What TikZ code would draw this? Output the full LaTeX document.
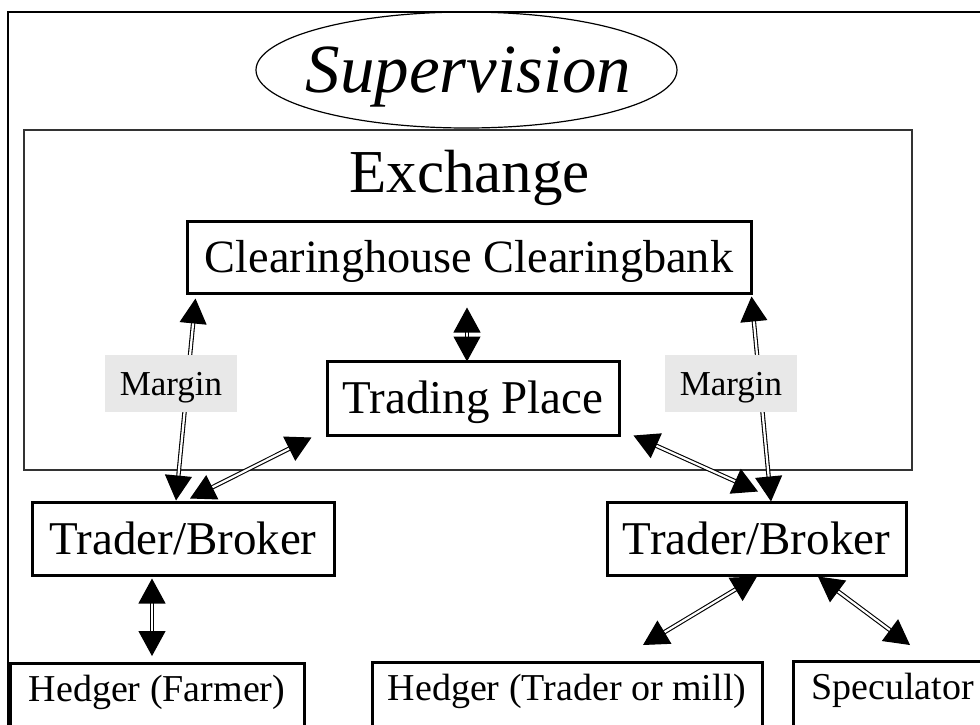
\documentclass[tikz,border=0pt]{standalone}
\usepackage{fontspec}
\setmainfont{Liberation Serif}
\usetikzlibrary{shapes.geometric,arrows.meta,calc}
\tikzset{
  mainbox/.style={draw, line width=3pt, inner sep=0pt, font=\fontsize{47}{47}\selectfont, text height=31pt, text depth=0pt},
  lowbox/.style={draw, line width=3pt, inner sep=0pt, anchor=north, font=\fontsize{38}{38}\selectfont, text height=38pt, text depth=62pt},
  marginlbl/.style={fill=black!9, inner sep=0pt, minimum width=132pt, minimum height=57pt, font=\fontsize{35}{35}\selectfont, text height=23pt, text depth=0pt},
  dbl/.style={double, line width=1.1pt, double distance=2.2pt, {Triangle[length=25pt,width=27pt]}-{Triangle[length=25pt,width=27pt]}},
}
\begin{document}
\begin{tikzpicture}[x=1pt,y=-1pt]
\useasboundingbox (0,0) rectangle (980,724);
\clip (0,0) rectangle (980,724);
\fill[white] (0,0) rectangle (980,724);
% outer frame
\draw[line width=2pt] (8,1000) -- (8,12) -- (1000,12);
% supervision
\node[ellipse, draw, line width=1.2pt, minimum width=421pt, minimum height=116pt, inner sep=0pt,
      font=\fontsize{69}{69}\selectfont\itshape, text height=0pt, text depth=0pt] (sup) at (466.5,70)
      {\raisebox{-22pt}[0pt][0pt]{\makebox[0pt]{\hspace*{4pt}Supervision}}};
% exchange frame
\node[draw=black!80, line width=1.3pt, minimum width=888pt, minimum height=340pt, inner sep=0pt] (ex) at (468,300) {};
\node[inner sep=0pt, font=\fontsize{61}{61}\selectfont, text height=41pt, text depth=0pt] (exl) at (469.5,171.5) {Exchange};
% main boxes
\node[mainbox, minimum width=564pt, minimum height=72pt, font=\fontsize{46.3}{46.3}\selectfont] (ch) at (469,257) {Clearinghouse Clearingbank};
\node[mainbox, minimum width=292pt, minimum height=74pt] (tp) at (473,398) {Trading Place};
\node[mainbox, minimum width=302pt, minimum height=73pt] (tbl) at (183,538.5) {Trader/Broker};
\node[mainbox, minimum width=299pt, minimum height=73pt] (tbr) at (756.5,538.5) {Trader/Broker};
% lower boxes
\node[lowbox, minimum width=294pt] (hf) at (157,662) {Hedger (Farmer)};
\node[lowbox, minimum width=390pt] (ht) at (567,661) {Hedger (Trader or mill)};
\node[lowbox, minimum width=199pt] (spec) at (892.5,660) {Speculator};
% connectors
\draw[dbl] ($(ch.south west)+(10,4)$) -- ($(tbl.north)+(-7,0)$);
\draw[dbl] ($(ch.south)+(-2,13)$) -- ($(tp.north)+(-6,2)$);
\draw[dbl] ($(tp.south west)+(-14,1)$) -- ($(tbl.north)+(7,-2)$);
\draw[dbl] ($(ch.south east)+(-1,2)$) -- ($(tbr.north)+(14.5,1)$);
\draw[dbl] ($(tp.south east)+(13,-1)$) -- ($(tbr.north)+(1.5,-9)$);
\draw[dbl] ($(tbl.south)+(-31,2)$) -- ($(hf.north)+(-5,-6)$);
\draw[dbl] ($(tbr.south)+(0.5,0)$) -- ($(ht.north)+(76,-16)$);
\draw[dbl] ($(tbr.south)+(61.5,0)$) -- ($(spec.north)+(17.5,-15)$);
% margin labels
\node[marginlbl] (ml) at (171,383.5) {Margin};
\node[marginlbl] (mr) at (731,383.5) {Margin};
\end{tikzpicture}
\end{document}
